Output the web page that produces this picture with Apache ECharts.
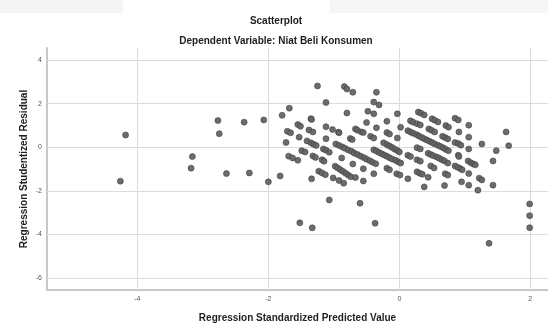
<!DOCTYPE html>
<html>
<head>
<meta charset="utf-8">
<script src="https://cdn.jsdelivr.net/npm/echarts@6/dist/echarts.min.js"></script>
<style>
  html, body { margin: 0; padding: 0; background: #fff; }
  #chart { width: 548px; height: 323px; }
</style>
</head>
<body>
<div id="chart"></div>
<script>
// regression standardized predicted value / studentized residual pairs
var outlierPoints = [
    [-4.18, 0.56], [-4.26, -1.56], [-2.77, 1.22], [-2.75, 0.62], [-2.37, 1.15], [-2.07, 1.25],
    [-3.16, -0.43], [-3.18, -0.96], [-2.64, -1.21], [-2.29, -1.18], [-2.00, -1.59],
    [-1.79, 1.46], [-1.68, 1.79], [-1.82, -1.32],
    [-1.07, -2.42], [-0.60, -2.57], [-1.52, -3.47], [-1.33, -3.70], [-0.37, -3.49],
    [1.99, -2.60], [1.99, -3.14], [1.99, -3.69], [1.37, -4.41],
    [-1.25, 2.81], [-0.84, 2.78], [-0.80, 2.67], [-0.71, 2.52], [-0.35, 2.52], [-1.12, 2.05],
    [-0.39, 2.07], [-0.31, 1.94], [-0.80, 1.57], [-0.48, 1.65], [-0.39, 1.53], [-0.03, 1.53]
];

var leftBandPoints = [
    [-1.35, 1.31], [-1.34, 1.27], [-1.55, 1.04], [-1.51, 0.96], [-1.12, 0.94], [-1.02, 0.81],
    [-0.93, 0.69], [-1.71, 0.73], [-1.66, 0.66], [-1.38, 0.79], [-1.32, 0.70], [-1.53, 0.46],
    [-1.12, 0.39], [-1.73, 0.22], [-1.41, 0.29], [-1.35, 0.20], [-1.31, 0.13], [-1.27, 0.08],
    [-1.16, -0.08], [-1.12, -0.14], [-1.07, -0.23], [-1.49, -0.16], [-1.44, -0.22],
    [-1.69, -0.41], [-1.63, -0.49], [-1.55, -0.60], [-1.32, -0.40], [-1.28, -0.47],
    [-1.18, -0.58], [-1.15, -0.64], [-1.23, -1.10], [-1.18, -1.18], [-1.13, -1.26],
    [-1.01, -1.41], [-1.34, -1.45], [-0.92, -1.53], [-0.85, -1.65], [-0.55, -1.55]
];

var middleBandPoints = [
    [-0.67, 0.84], [-0.64, 0.78], [-0.58, 0.70], [-0.55, 0.67], [-0.50, 1.13], [-0.35, 0.89],
    [-0.19, 1.19], [0.02, 0.91], [-0.92, 0.66], [-0.44, 0.50], [-0.39, 0.42], [-0.19, 0.67],
    [-0.15, 0.60], [-0.03, 0.42], [-0.75, 0.40], [-0.72, 0.35],
    [-0.97, 0.15], [-0.92, 0.08], [-0.87, 0.01], [-0.83, -0.05], [-0.78, -0.13], [-0.73, -0.19],
    [-0.69, -0.27], [-0.64, -0.33], [-0.59, -0.41], [-0.54, -0.48], [-0.50, -0.55], [-0.45, -0.62],
    [-0.41, -0.69], [-0.36, -0.76],
    [-0.24, 0.20], [-0.19, 0.12], [-0.15, 0.05], [-0.11, -0.01], [-0.07, -0.09], [-0.03, -0.15],
    [0.00, -0.22],
    [-0.39, -0.12], [-0.35, -0.18], [-0.31, -0.24], [-0.27, -0.30], [-0.23, -0.36], [-0.19, -0.42],
    [-0.15, -0.48], [-0.11, -0.54], [-0.06, -0.60], [-0.02, -0.67], [0.02, -0.73],
    [-0.88, -0.49], [-0.71, -0.77], [-0.55, -0.99],
    [-0.98, -0.87], [-0.94, -0.95], [-0.90, -1.03], [-0.86, -1.11], [-0.82, -1.20], [-0.78, -1.28],
    [-0.74, -1.36], [-0.67, -1.39], [-0.39, -1.22], [-0.19, -0.96], [-0.15, -1.04],
    [-0.04, -1.22], [0.01, -1.28], [0.13, -1.45]
];

var rightBandPoints = [
    [0.29, 1.61], [0.33, 1.56], [0.38, 1.48], [0.17, 1.21], [0.21, 1.15], [0.27, 1.08], [0.32, 1.02],
    [0.50, 1.30], [0.54, 1.24], [0.59, 1.16], [0.85, 1.33], [0.90, 1.25], [0.71, 0.99], [0.75, 0.92],
    [1.06, 1.01], [0.45, 0.84], [0.49, 0.78], [0.54, 0.70],
    [0.13, 0.76], [0.17, 0.70], [0.21, 0.64], [0.26, 0.58], [0.30, 0.51], [0.34, 0.45], [0.38, 0.39],
    [0.42, 0.33], [0.46, 0.27], [0.50, 0.21], [0.54, 0.15], [0.59, 0.09], [0.63, 0.03], [0.67, -0.03],
    [0.71, -0.10], [0.75, -0.16],
    [0.66, 0.50], [0.70, 0.44], [0.74, 0.38], [0.91, 0.70], [1.06, 0.46], [0.85, 0.21], [0.90, 0.17],
    [0.94, 0.09], [1.26, 0.15], [1.06, -0.08], [1.63, 0.70], [1.67, 0.07], [1.48, -0.16],
    [0.27, -0.02], [0.32, -0.08], [0.13, -0.37], [0.17, -0.43],
    [0.44, -0.28], [0.48, -0.34], [0.52, -0.39], [0.57, -0.45], [0.61, -0.51], [0.65, -0.57], [0.69, -0.63],
    [0.90, -0.37], [0.91, -0.43], [0.27, -0.58], [0.32, -0.64], [0.74, -0.73],
    [0.85, -0.86], [0.89, -0.92], [0.93, -0.98], [0.96, -1.04],
    [1.05, -0.63], [1.09, -0.71], [1.13, -0.77], [1.16, -0.81], [1.43, -0.63],
    [0.48, -0.86], [0.53, -0.95], [0.27, -1.13], [0.31, -1.19], [0.35, -1.24], [0.44, -1.38],
    [0.70, -1.22], [0.74, -1.28], [1.06, -1.21], [1.22, -1.42], [1.26, -1.50], [0.95, -1.59],
    [0.69, -1.76], [0.38, -1.82], [1.06, -1.74], [1.20, -1.97], [1.43, -1.74]
];

var xRange = [-5.38, 2.27];
var yRange = [-6.55, 4.55];
var xTicks = [-4, -2, 0, 2];
var yTicks = [-6, -4, -2, 0, 2, 4];

var chart = echarts.init(document.getElementById('chart'));

var fontName = "'Liberation Sans', Arial, sans-serif";

// grid lines at the tick values
var gridLines = [];
xTicks.forEach(function (v) { gridLines.push({ xAxis: v }); });
yTicks.forEach(function (v) { gridLines.push({ yAxis: v }); });

var option = {
    backgroundColor: '#fff',
    animation: false,
    title: [
        {
            text: 'Scatterplot',
            left: 271,
            top: 11,
            textAlign: 'center',
            textStyle: { fontFamily: fontName, fontSize: 10, fontWeight: 'bold', color: '#1e1e1e' }
        },
        {
            text: 'Dependent Variable: Niat Beli Konsumen',
            left: 271,
            top: 31,
            textAlign: 'center',
            textStyle: { fontFamily: fontName, fontSize: 10, fontWeight: 'bold', color: '#1e1e1e' }
        }
    ],
    graphic: [
        { type: 'rect', shape: { x: 0, y: 0, width: 123, height: 13 }, style: { fill: '#f5f5f5' }, z: -1 },
        { type: 'rect', shape: { x: 330, y: 0, width: 218, height: 13 }, style: { fill: '#f6f6f6' }, z: -1 }
    ],
    grid: {
        left: 47,
        right: 0,
        top: 48,
        bottom: 33,
        outerBoundsMode: 'none'
    },
    xAxis: {
        type: 'value',
        min: xRange[0],
        max: xRange[1],
        name: 'Regression Standardized Predicted Value',
        nameLocation: 'middle',
        nameGap: 23,
        nameMoveOverlap: false,
        nameTextStyle: { fontFamily: fontName, fontSize: 10, fontWeight: 'bold', color: '#1e1e1e' },
        axisLine: { show: true, onZero: false, lineStyle: { color: '#c8c8c8', width: 2 } },
        axisTick: { show: false, customValues: xTicks },
        axisLabel: {
            customValues: xTicks,
            fontFamily: fontName,
            fontSize: 7,
            color: '#555',
            margin: 6
        },
        splitLine: { show: false }
    },
    yAxis: {
        type: 'value',
        min: yRange[0],
        max: yRange[1],
        name: 'Regression Studentized Residual',
        nameLocation: 'middle',
        nameGap: 18,
        nameMoveOverlap: false,
        nameTextStyle: { fontFamily: fontName, fontSize: 10, fontWeight: 'bold', color: '#1e1e1e' },
        axisLine: { show: true, onZero: false, lineStyle: { color: '#c8c8c8', width: 2 } },
        axisTick: { show: false, customValues: yTicks },
        axisLabel: {
            customValues: yTicks,
            fontFamily: fontName,
            fontSize: 7,
            color: '#555',
            margin: 5
        },
        splitLine: { show: false }
    },
    series: [
        {
            type: 'scatter',
            z: 3,
            symbolSize: 6,
            itemStyle: { color: '#646464', borderColor: '#3c3c3c', borderWidth: 0.6, opacity: 0.95 },
            data: outlierPoints.concat(leftBandPoints, middleBandPoints, rightBandPoints),
            markLine: {
                z: 1,
                silent: true,
                animation: false,
                symbol: ['none', 'none'],
                label: { show: false },
                emphasis: { disabled: true },
                lineStyle: { color: '#dcdcdc', width: 1, type: 'solid' },
                data: gridLines
            }
        }
    ]
};

chart.setOption(option);
</script>
</body>
</html>
